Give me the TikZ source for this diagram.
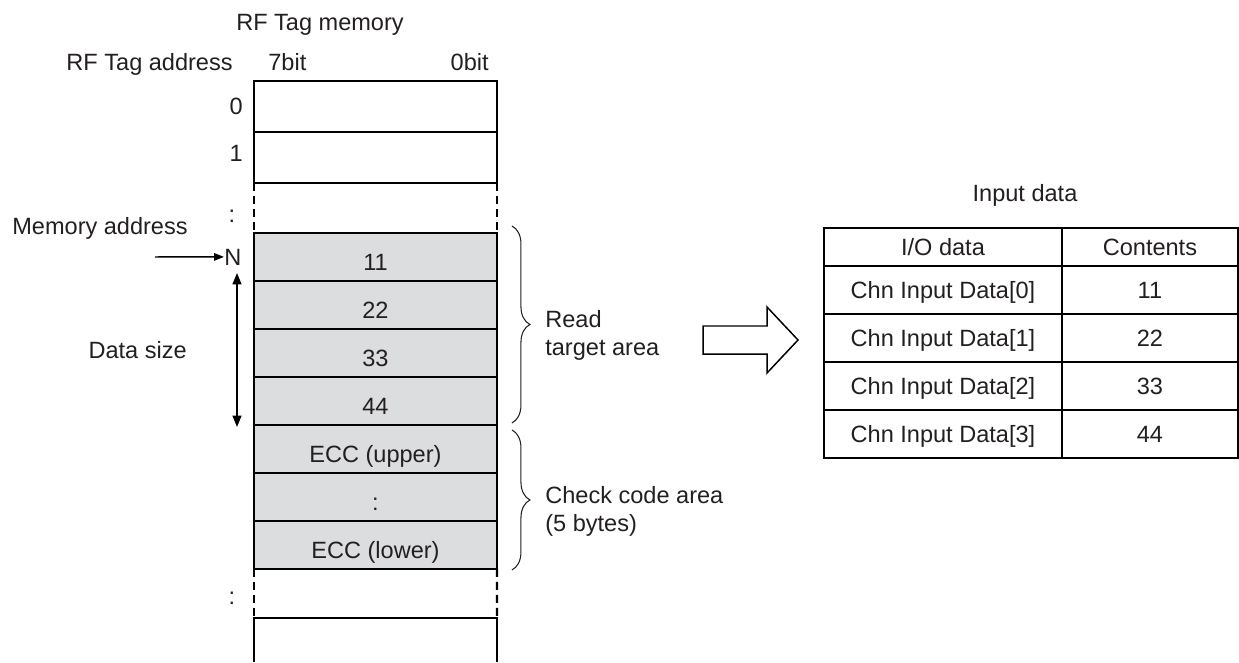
\documentclass[tikz,border=0pt]{standalone}
\usepackage{fontspec}
\setmainfont{Liberation Sans}
\usetikzlibrary{arrows.meta, decorations.pathreplacing, positioning}
\definecolor{cellgray}{RGB}{220,221,223}
\definecolor{txtgray}{RGB}{35,31,32}
\newcommand{\lblfont}{\fontsize{13.4}{15.9}\selectfont}
\tikzset{
  lbl/.style={inner sep=0pt, font=\lblfont, text=txtgray},
  memcell/.style={rectangle, draw=black, line width=1.2pt,
    inner sep=0pt, outer sep=0pt,
    minimum width=4.86cm, minimum height=1.02cm},
  datacell/.style={memcell, fill=cellgray, minimum height=0.96cm,
    font=\lblfont, text=txtgray, text height=18.6pt, text depth=3.4pt},
  dashside/.style={line width=1.2pt, dash pattern=on 0.16cm off 0.1cm},
  tabcell/.style={rectangle, draw=black, line width=0.95pt,
    inner sep=0pt, outer sep=0pt, anchor=north west,
    minimum width=4.76cm, minimum height=0.96cm,
    font=\lblfont, text=txtgray, text height=10pt, text depth=0.4pt},
  brc/.style={decorate, decoration={brace, amplitude=0.36cm},
    line width=0.6pt, draw=txtgray},
  ptr/.style={-{Triangle[length=2mm, width=1.5mm]}, line width=0.85pt},
  span/.style={{Triangle[length=2.3mm, width=1.8mm]}-{Triangle[length=2.3mm, width=1.8mm]},
    line width=0.85pt},
  blockarrow/.style={draw=black, fill=white, line width=0.85pt, line join=miter}
}

\begin{document}
\begin{tikzpicture}[x=0.02cm, y=-0.02cm]
\useasboundingbox (0,0) rectangle (1239,662);

%% Headings
\node[lbl, anchor=base] (title) at (320,31) {RF Tag memory};
\node[lbl, anchor=base east] (addr) at (233,71) {RF Tag address};
\node[lbl, anchor=base west] (b7) at (268,71) {7bit};
\node[lbl, anchor=base east] (b0) at (489,71) {0bit};

%% Memory rows
\node[memcell, anchor=north west] (r0) at (254,81) {};
\node[memcell, below=0pt of r0] (r1) {};
\node[lbl, anchor=base east] (a0) at (243,115) {0};
\node[lbl, anchor=base east] (a1) at (243,162) {1};
\node[lbl, anchor=base] (dots1) at (232,222) {:};

\node[datacell, anchor=north west] (d0) at (254,233) {11};
\node[datacell, below=0pt of d0] (d1) {22};
\node[datacell, below=0pt of d1] (d2) {33};
\node[datacell, below=0pt of d2] (d3) {44};
\node[datacell, below=0pt of d3] (e0) {ECC (upper)};
\node[datacell, below=0pt of e0] (e1) {:};
\node[datacell, below=0pt of e1] (e2) {ECC (lower)};

%% Skipped ranges
\draw[dashside] (r1.south west) -- (d0.north west);
\draw[dashside] (r1.south east) -- (d0.north east);
\coordinate (bl) at (254,618);
\coordinate (br) at (497,618);
\draw[dashside] (e2.south west) -- (bl);
\draw[dashside] (e2.south east) -- (br);
\draw[line width=1.2pt] (bl) ++(0,44) -- (bl) -- (br) -- ++(0,44);
\node[lbl, anchor=base] (dots2) at (232,604) {:};

%% Memory address pointer and data size
\node[lbl, anchor=base west] (memaddr) at (12,234) {Memory address};
\node[lbl, anchor=base west] (nn) at (224,265) {N};
\coordinate (ptrstart) at (155,257);
\draw[ptr] (ptrstart) -- (nn.west);
\coordinate (dstop) at (237,273);
\coordinate (dsbot) at (237,427);
\draw[span] (dstop) -- (dsbot);
\node[lbl, anchor=base east] (dsize) at (187,358) {Data size};

%% Braces
\draw[brc] ([xshift=0.3cm, yshift=0.14cm]d0.north east) -- ([xshift=0.3cm, yshift=0.04cm]d3.south east);
\draw[brc] ([xshift=0.3cm, yshift=-0.1cm]e0.north east) -- ([xshift=0.3cm, yshift=-0.02cm]e2.south east);
\node[lbl, anchor=west, align=left] (readarea) at (545,335) {Read\\target area};
\node[lbl, anchor=west, align=left] (checkarea) at (545,511) {Check code area\\(5 bytes)};

%% Block arrow
\draw[blockarrow] (703,326) -- (767,326) -- (767,307) -- (798,340)
  -- (767,373) -- (767,354) -- (703,354) -- cycle;

%% Input data table
\node[lbl, anchor=base] (intitle) at (1025,201) {Input data};
\node[tabcell, minimum height=0.76cm] (h1) at (824,228) {I/O data};
\node[tabcell, minimum height=0.76cm, minimum width=3.52cm, right=0pt of h1] (h2) {Contents};
\foreach \i/\v in {0/11, 1/22, 2/33, 3/44} {
  \node[tabcell] (in\i) at (824,{266+48*\i}) {Chn Input Data[\i]};
  \node[tabcell, minimum width=3.52cm, right=0pt of in\i] (val\i) {\v};
}

\end{tikzpicture}
\end{document}
